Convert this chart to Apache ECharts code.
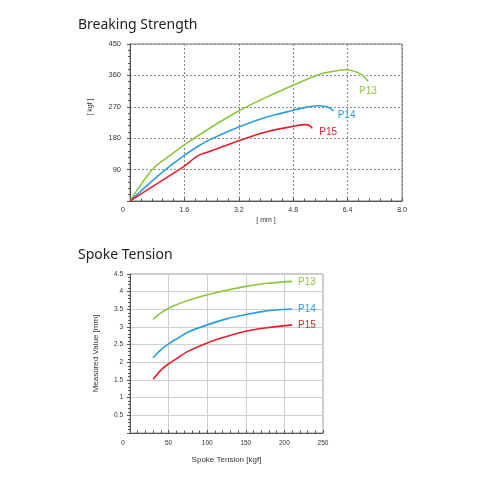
<!DOCTYPE html>
<html><head><meta charset="utf-8">
<script src="https://cdn.jsdelivr.net/npm/echarts/dist/echarts.min.js"></script>
<style>html,body{margin:0;padding:0;background:#fff}#c{width:500px;height:500px}</style>
</head><body><div id="c"></div>
<script>
// ---- texts ----
const titles = ['Breaking Strength', 'Spoke Tension'];
const seriesNames = ['P13', 'P14', 'P15'];
const colors = ['#8dc63f', '#2a9fdc', '#e2202e'];

// ---- chart 1: Breaking Strength (x: mm, y: kgf) ----
const bsX13 = [0, 0.68, 1.2, 1.6, 2.4, 3.2, 4.0, 4.8, 5.6, 6.0, 6.35, 6.8, 7.0];
const bsY13 = [0, 93, 132, 161, 212, 258, 297, 332, 364, 372, 376, 363, 343];
const bsX14 = [0, 0.68, 1.2, 1.6, 2.0, 2.4, 3.2, 4.0, 4.8, 5.2, 5.56, 5.85, 5.99];
const bsY14 = [0, 60, 102, 131, 157, 178, 212, 240, 260, 269, 273, 268, 258];
const bsX15 = [0, 0.8, 1.6, 2.0, 2.4, 3.2, 4.0, 4.8, 5.16, 5.3, 5.36];
const bsY15 = [0, 50, 100, 130, 144, 173, 198, 214, 219, 215, 208];
const bsXName = '[ mm ]';
const bsYName = '[ kgf ]';

// ---- chart 2: Spoke Tension ----
const stX = [30, 40, 50, 60, 75, 100, 125, 150, 175, 210];
const stP13 = [3.22, 3.40, 3.53, 3.63, 3.75, 3.91, 4.04, 4.15, 4.23, 4.29];
const stP14 = [2.13, 2.35, 2.52, 2.66, 2.85, 3.06, 3.23, 3.35, 3.45, 3.51];
const stP15 = [1.52, 1.78, 1.96, 2.10, 2.31, 2.55, 2.73, 2.88, 2.97, 3.06];
const stXName = 'Spoke Tension [kgf]';
const stYName = 'Measured Value [mm]';

const zip = (xs, ys) => xs.map((x, i) => [x, ys[i]]);
const FONT = 'Liberation Sans';

const zeroFmt = (v) => (v === 0 ? '{z|0}' : String(v));
const zeroRich = { z: { fontSize: 7, fontFamily: FONT, color: '#333', padding: [0, 14, 0, 0] } };

const chart = echarts.init(document.getElementById('c'), null, { renderer: 'canvas' });

function endLbl(name, color, size, offset) {
  return { show: true, formatter: name, color: color, fontSize: size, fontFamily: FONT, distance: 0, offset: offset };
}

const bsData = [zip(bsX13, bsY13), zip(bsX14, bsY14), zip(bsX15, bsY15)];
const stData = [zip(stX, stP13), zip(stX, stP14), zip(stX, stP15)];
const bsOffsets = [[-9, 10], [4, 4], [7, 4]];
const stOffsets = [[6, 1], [6, 0], [6, 0]];

const series = [];
seriesNames.forEach((n, i) => {
  series.push({
    type: 'line', name: n, xAxisIndex: 0, yAxisIndex: 0, data: bsData[i],
    smooth: 0.3, showSymbol: false, symbol: 'none',
    lineStyle: { color: colors[i], width: 1.6 },
    itemStyle: { color: colors[i] },
    endLabel: endLbl(n, colors[i], 10, bsOffsets[i])
  });
});
seriesNames.forEach((n, i) => {
  series.push({
    type: 'line', name: n, xAxisIndex: 1, yAxisIndex: 1, data: stData[i],
    smooth: 0.3, showSymbol: false, symbol: 'none',
    lineStyle: { color: colors[i], width: 1.6 },
    itemStyle: { color: colors[i] },
    endLabel: endLbl(n, colors[i], 10, stOffsets[i])
  });
});

chart.setOption({
  animation: false,
  backgroundColor: '#fff',
  title: [
    { text: titles[0], left: 73, top: 13, textStyle: { fontFamily: 'Noto Sans', fontSize: 14, fontWeight: 'normal', color: '#222' } },
    { text: titles[1], left: 73, top: 243, textStyle: { fontFamily: 'Noto Sans', fontSize: 14, fontWeight: 'normal', color: '#222' } }
  ],
  grid: [
    { left: 130, top: 44, width: 272, height: 157, show: true, borderColor: '#777', borderWidth: 1, backgroundColor: 'transparent', containLabel: false, outerBoundsMode: 'none' },
    { left: 130, top: 274, width: 193, height: 159, show: true, borderColor: '#999', borderWidth: 1, backgroundColor: 'transparent', containLabel: false, outerBoundsMode: 'none' }
  ],
  xAxis: [
    {
      gridIndex: 0, type: 'value', min: 0, max: 8, interval: 1.6,
      name: bsXName, nameLocation: 'middle', nameGap: 16,
      nameTextStyle: { fontFamily: FONT, fontSize: 7, color: '#333' },
      axisLine: { show: true, lineStyle: { color: '#555', width: 1 } },
      axisTick: { show: true, inside: true, length: 3, lineStyle: { color: '#555' } },
      minorTick: { show: true, splitNumber: 5, length: 2.5, lineStyle: { color: '#555' } },
      axisLabel: { fontFamily: FONT, fontSize: 7, color: '#333', margin: 6, formatter: (v) => (v === 0 ? '{z|0}' : v.toFixed(1)), rich: zeroRich },
      splitLine: { show: true, lineStyle: { color: '#8a8a8a', type: [2, 2], width: 1 } },
      minorSplitLine: { show: false }
    },
    {
      gridIndex: 1, type: 'value', min: 0, max: 250, interval: 50,
      name: stXName, nameLocation: 'middle', nameGap: 23,
      nameTextStyle: { fontFamily: FONT, fontSize: 8, color: '#333' },
      axisLine: { show: true, lineStyle: { color: '#555', width: 1 } },
      axisTick: { show: true, inside: true, length: 3, lineStyle: { color: '#555' } },
      minorTick: { show: true, splitNumber: 5, length: 2.5, lineStyle: { color: '#555' } },
      axisLabel: { fontFamily: FONT, fontSize: 6.5, color: '#333', margin: 7, formatter: zeroFmt, rich: zeroRich },
      splitLine: { show: true, lineStyle: { color: '#cfcfcf', type: 'solid', width: 1 } }
    }
  ],
  yAxis: [
    {
      gridIndex: 0, type: 'value', min: 0, max: 450, interval: 90,
      name: bsYName, nameLocation: 'middle', nameGap: 36, nameRotate: 90,
      nameTextStyle: { fontFamily: FONT, fontSize: 7, color: '#333', padding: [0, 0, 0, 31] },
      axisLine: { show: true, lineStyle: { color: '#555', width: 1 } },
      axisTick: { show: true, inside: false, length: 3, lineStyle: { color: '#555' } },
      minorTick: { show: true, splitNumber: 5, length: 2, lineStyle: { color: '#555' } },
      axisLabel: { fontFamily: FONT, fontSize: 7.5, color: '#333', margin: 9, showMinLabel: false },
      splitLine: { show: true, lineStyle: { color: '#8a8a8a', type: [2, 2], width: 1 } }
    },
    {
      gridIndex: 1, type: 'value', min: 0, max: 4.5, interval: 0.5,
      name: stYName, nameLocation: 'middle', nameGap: 30, nameRotate: 90,
      nameTextStyle: { fontFamily: FONT, fontSize: 8, color: '#333' },
      axisLine: { show: true, lineStyle: { color: '#555', width: 1 } },
      axisTick: { show: true, inside: false, length: 3, lineStyle: { color: '#555' } },
      minorTick: { show: true, splitNumber: 5, length: 2, lineStyle: { color: '#555' } },
      axisLabel: { fontFamily: FONT, fontSize: 6.5, color: '#333', margin: 7, showMinLabel: false },
      splitLine: { show: true, lineStyle: { color: '#cfcfcf', type: 'solid', width: 1 } }
    }
  ],
  series: series
});
</script>
</body></html>
